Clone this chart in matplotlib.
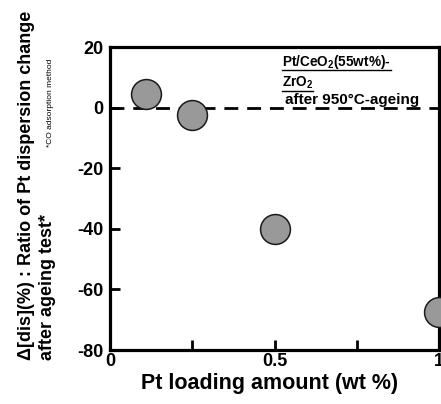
import numpy as np
import matplotlib
matplotlib.use("Agg")
import matplotlib.pyplot as plt
from matplotlib.lines import Line2D

plt.rcParams['font.family'] = ['Liberation Sans', 'DejaVu Sans']
plt.rcParams['font.weight'] = 'bold'
plt.rcParams['axes.unicode_minus'] = False
plt.rcParams['mathtext.fontset'] = 'custom'
plt.rcParams['mathtext.rm'] = 'Liberation Sans:bold'
plt.rcParams['mathtext.bf'] = 'Liberation Sans:bold'

# data
pt_loading = [0.11, 0.25, 0.5, 1.0]
dis_change = [4.6, -2.3, -40, -67.5]
x_ticks = [0, 0.25, 0.5, 0.75, 1.0]
x_ticklabels = ['0', '', '0.5', '', '1']
y_ticks = [-80, -60, -40, -20, 0, 20]

W, H = 441, 404
fig = plt.figure(figsize=(W / 100, H / 100), dpi=100)
ax = fig.add_axes([110 / W, 54 / H, 329 / W, 303 / H])

ax.axhline(0, color='black', lw=2.0, ls=(0, (5, 3.2)), zorder=1)
ax.plot(pt_loading, dis_change, 'o', ms=21.5, mfc='#999999', mec='#1a1a1a',
        mew=1.1, clip_on=False, zorder=3)

ax.set_xlim(0, 1)
ax.set_ylim(-80, 20)
ax.set_xticks(x_ticks)
ax.set_xticklabels(x_ticklabels)
ax.set_yticks(y_ticks)
for s in ax.spines.values():
    s.set_linewidth(2.3)
ax.tick_params(direction='in', length=7, width=2, labelsize=13)
ax.tick_params(axis='y', pad=5)
ax.tick_params(axis='x', pad=2)
for lab in ax.get_xticklabels() + ax.get_yticklabels():
    lab.set_fontweight('bold')

ax.set_xlabel('Pt loading amount (wt %)', fontsize=15.5, fontweight='bold', labelpad=5)
ax.xaxis.set_label_coords(0.485, -0.075)

# y-axis label in two lines plus footnote
fig.text(27 / W, 44 / H, 'Δ[dis](%) : Ratio of Pt dispersion change', rotation=90,
         ha='center', va='bottom', fontsize=13, fontweight='bold')
fig.text(48 / W, 44 / H, 'after ageing test*', rotation=90,
         ha='center', va='bottom', fontsize=13, fontweight='bold')
fig.text(50 / W, (H - 147) / H, '*CO adsorption method', rotation=90,
         ha='center', va='bottom', fontsize=6, fontweight='normal')

# sample annotation (first two lines underlined)
t1 = fig.text(282 / W, (H - 66) / H, 'Pt/CeO$_2$(55wt%)-', fontsize=9.8,
              fontweight='bold', ha='left', va='baseline')
t2 = fig.text(282 / W, (H - 87) / H, 'ZrO$_2$', fontsize=9.8,
              fontweight='bold', ha='left', va='baseline')
fig.text(285 / W, (H - 104) / H, 'after 950°C-ageing', fontsize=11,
         fontweight='bold', ha='left', va='baseline')

fig.canvas.draw()
r = fig.canvas.get_renderer()
for t, ybase in [(t1, H - 66), (t2, H - 87)]:
    bb = t.get_window_extent(r)
    yl = (ybase - 3.5) / H
    fig.add_artist(Line2D([bb.x0 / W, bb.x1 / W], [yl, yl], color='black', lw=1.0,
                          transform=fig.transFigure))

fig.savefig('out.png', dpi=100)
